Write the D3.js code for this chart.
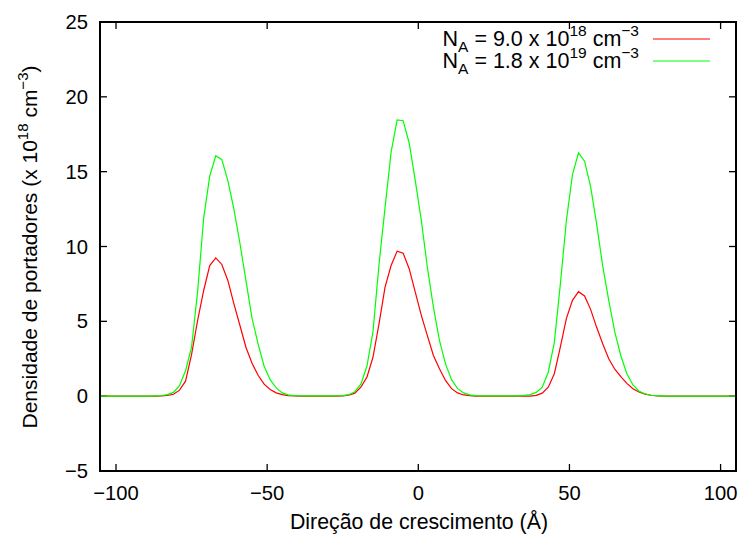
<!DOCTYPE html>
<html>
<head>
<meta charset="utf-8">
<script src="https://cdn.jsdelivr.net/npm/d3@7"></script>
<style>
  body { margin: 0; background: #fff; }
  text { font-family: "Liberation Sans", Arial, Helvetica, sans-serif; fill: #000; }
</style>
</head>
<body>
<svg id="chart" width="743" height="534"></svg>
<script>
// Position along the growth direction (Å)
const position = [
  -105,-103,-101,-99,-97,-95,-93,-91,-89,-87,
  -85,-83,-81,-79,-77,-75,-73,-71,-69,-67,
  -65,-63,-61,-59,-57,-55,-53,-51,-49,-47,
  -45,-43,-41,-39,-37,-35,-33,-31,-29,-27,
  -25,-23,-21,-19,-17,-15,-13,-11,-9,-7,
  -5,-3,-1,1,3,5,7,9,11,13,
  15,17,19,21,23,25,27,29,31,33,
  35,37,39,41,43,45,47,49,51,53,
  55,57,59,61,63,65,67,69,71,73,
  75,77,79,81,83,85,87,89,91,93,
  95,97,99,101,103,105
];

// Carrier density (x 10^18 cm^-3), N_A = 9.0 x 10^18 cm^-3
const densityLow = [
  0,0,0,0,0,0,0,0,0,0,
  0.02,0.05,0.13,0.4,1.0,2.8,5.06,7.06,8.73,9.24,
  8.8,7.73,6.17,4.72,3.25,2.2,1.4,0.8,0.45,0.22,
  0.1,0.04,0.02,0,0,0,0,0,0,0,
  0.02,0.07,0.2,0.6,1.27,2.6,4.83,7.28,8.73,9.69,
  9.55,8.5,6.95,5.4,4.05,2.72,1.83,1.05,0.5,0.22,
  0.08,0.03,0,0,0,0,0,0,0,0,
  0,0,0.05,0.2,0.6,1.5,3.3,5.2,6.4,6.98,
  6.7,5.8,4.6,3.5,2.5,1.8,1.3,0.85,0.5,0.28,
  0.14,0.06,0.02,0,0,0,0,0,0,0,
  0,0,0,0,0,0
];

// Carrier density (x 10^18 cm^-3), N_A = 1.8 x 10^19 cm^-3
const densityHigh = [
  0,0,0,0,0,0,0,0,0,0.02,
  0.04,0.1,0.25,0.7,1.7,3.3,7.0,11.9,14.7,16.06,
  15.8,14.4,12.5,10.2,7.7,5.2,3.5,2.0,1.1,0.55,
  0.22,0.09,0.04,0.02,0.02,0.02,0.02,0.02,0.02,0.02,
  0.04,0.1,0.3,0.8,2.0,4.3,8.8,12.6,16.3,18.46,
  18.4,16.9,14.4,11.75,8.6,5.95,3.72,2.16,1.1,0.5,
  0.22,0.09,0.04,0.02,0.02,0.02,0.02,0.02,0.02,0.02,
  0.05,0.1,0.25,0.6,1.6,3.6,7.5,11.75,14.8,16.25,
  15.7,14.0,11.5,8.7,6.4,4.3,2.7,1.5,0.75,0.35,
  0.15,0.06,0.03,0,0,0,0,0,0,0,
  0,0,0,0,0,0
];

const xTicks = [-100, -50, 0, 50, 100];
const yTicks = [-5, 0, 5, 10, 15, 20, 25];

const seriesColors = ["#ff0000", "#00ff00"];

const svg = d3.select("#chart");
const plot = { left: 100, top: 22, right: 736, bottom: 471 };

const x = d3.scaleLinear().domain([-105.3, 105.1]).range([plot.left, plot.right]);
const y = d3.scaleLinear().domain([-5, 25]).range([plot.bottom, plot.top]);
const fmt = d3.format("d");
const tickLen = 7;

// Inward ticks on all four sides
const tickG = svg.append("g").attr("stroke", "#000").attr("stroke-width", 1.3);
yTicks.forEach(t => {
  tickG.append("line").attr("x1", plot.left).attr("x2", plot.left + tickLen)
    .attr("y1", y(t)).attr("y2", y(t));
  tickG.append("line").attr("x1", plot.right).attr("x2", plot.right - tickLen)
    .attr("y1", y(t)).attr("y2", y(t));
});
xTicks.forEach(t => {
  tickG.append("line").attr("x1", x(t)).attr("x2", x(t))
    .attr("y1", plot.bottom).attr("y2", plot.bottom - tickLen);
  tickG.append("line").attr("x1", x(t)).attr("x2", x(t))
    .attr("y1", plot.top).attr("y2", plot.top + tickLen);
});

// Tick labels
svg.append("g").selectAll("text").data(yTicks).join("text")
  .attr("x", 88).attr("y", d => y(d) + 7)
  .attr("text-anchor", "end").attr("font-size", 20.2)
  .text(d => fmt(d));
svg.append("g").selectAll("text").data(xTicks).join("text")
  .attr("x", d => x(d)).attr("y", 500)
  .attr("text-anchor", "middle").attr("font-size", 20.2)
  .text(d => fmt(d));

// Curves
const line = d3.line().x((d, i) => x(position[i])).y(d => y(d));
[densityLow, densityHigh].forEach((s, k) => {
  svg.append("path").datum(s)
    .attr("fill", "none").attr("stroke", seriesColors[k]).attr("stroke-width", 1.2)
    .attr("stroke-linejoin", "miter")
    .attr("d", line);
});

// Frame
svg.append("rect")
  .attr("x", plot.left).attr("y", plot.top)
  .attr("width", plot.right - plot.left).attr("height", plot.bottom - plot.top)
  .attr("fill", "none").attr("stroke", "#000").attr("stroke-width", 2);

// Axis titles
svg.append("text").attr("x", 419).attr("y", 529)
  .attr("text-anchor", "middle").attr("font-size", 21.3)
  .text("Direção de crescimento (Å)");

const yTitle = svg.append("text")
  .attr("transform", "translate(37,247) rotate(-90)")
  .attr("text-anchor", "middle").attr("font-size", 21);
yTitle.append("tspan").text("Densidade de portadores (x 10");
yTitle.append("tspan").attr("dy", -9).attr("font-size", 15).text("18");
yTitle.append("tspan").attr("dy", 9).text(" cm");
yTitle.append("tspan").attr("dy", -9).attr("font-size", 15).text("−3");
yTitle.append("tspan").attr("dy", 9).text(")");

// Legend
const legendRows = [
  { base: "9.0", exp: "18" },
  { base: "1.8", exp: "19" }
];
legendRows.forEach((r, k) => {
  const by = 46 + k * 22;
  const t = svg.append("text").attr("x", 639).attr("y", by)
    .attr("text-anchor", "end").attr("font-size", 21.5);
  t.append("tspan").text("N");
  t.append("tspan").attr("dy", 6).attr("font-size", 15.5).text("A");
  t.append("tspan").attr("dy", -6).text(" = " + r.base + " x 10");
  t.append("tspan").attr("dy", -10).attr("font-size", 15.5).text(r.exp);
  t.append("tspan").attr("dy", 10).text(" cm");
  t.append("tspan").attr("dy", -10).attr("font-size", 15.5).text("−3");
  svg.append("line")
    .attr("x1", 653).attr("x2", 710).attr("y1", by - 7).attr("y2", by - 7)
    .attr("stroke", seriesColors[k]).attr("stroke-width", 1.2);
});
</script>
</body>
</html>
